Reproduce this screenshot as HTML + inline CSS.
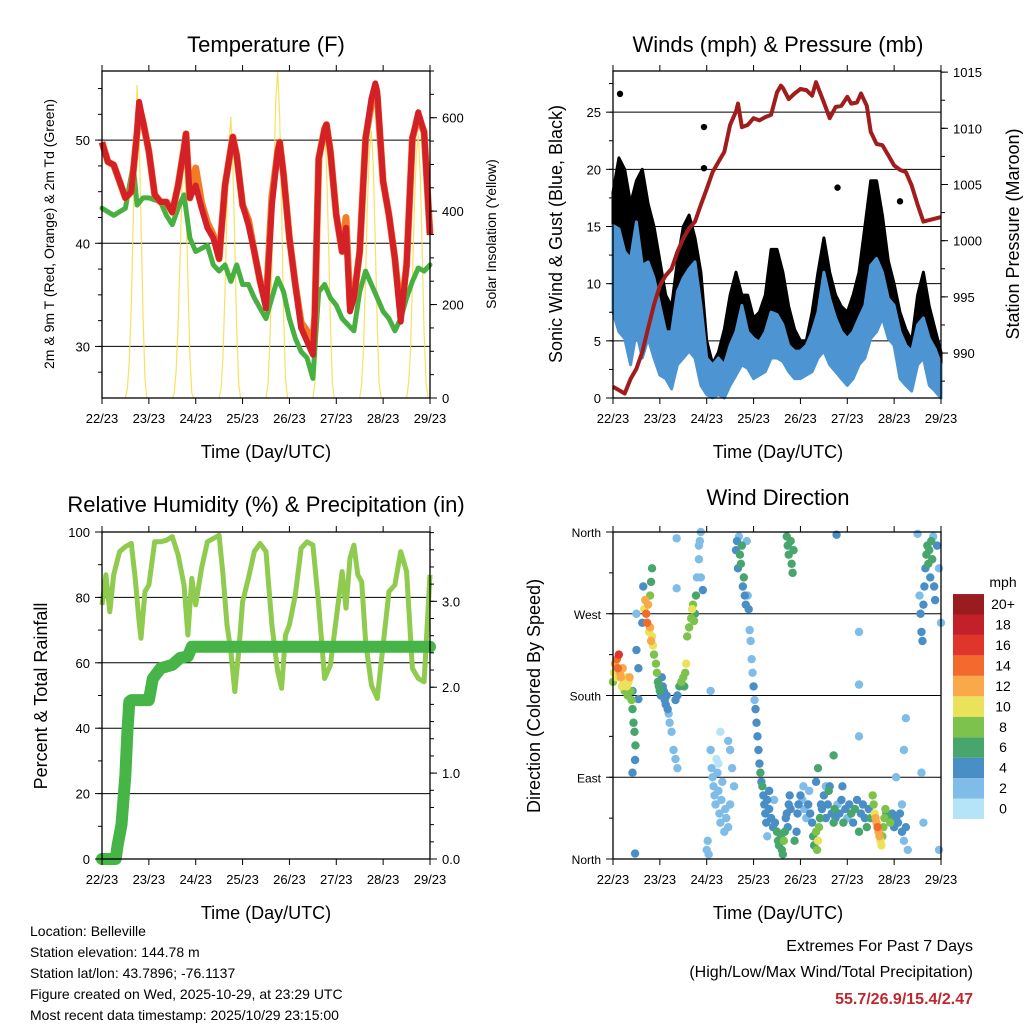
<!DOCTYPE html>
<html><head><meta charset="utf-8"><style>
body{margin:0;background:#fff}
svg{display:block;font-family:"Liberation Sans",Arial,sans-serif}
</style></head><body>
<svg id="c" width="1024" height="1024" viewBox="0 0 1024 1024">
<g id="layer"></g>
<text x="266" y="52" font-size="22" text-anchor="middle">Temperature (F)</text>
<text x="778" y="52" font-size="22" text-anchor="middle">Winds (mph) &amp; Pressure (mb)</text>
<text x="266" y="512" font-size="22" text-anchor="middle">Relative Humidity (%) &amp; Precipitation (in)</text>
<text x="778" y="505" font-size="22" text-anchor="middle">Wind Direction</text>
<text x="266" y="458" font-size="18" text-anchor="middle">Time (Day/UTC)</text>
<text x="778" y="458" font-size="18" text-anchor="middle">Time (Day/UTC)</text>
<text x="266" y="919" font-size="18" text-anchor="middle">Time (Day/UTC)</text>
<text x="778" y="919" font-size="18" text-anchor="middle">Time (Day/UTC)</text>
<text transform="translate(54,234) rotate(-90)" font-size="14" text-anchor="middle">2m &amp; 9m T (Red, Orange) &amp; 2m Td (Green)</text>
<text transform="translate(496,234) rotate(-90)" font-size="14" text-anchor="middle">Solar Insolation (Yellow)</text>
<text transform="translate(562,234) rotate(-90)" font-size="18" text-anchor="middle">Sonic Wind &amp; Gust (Blue, Black)</text>
<text transform="translate(1019,234) rotate(-90)" font-size="18" text-anchor="middle">Station Pressure (Maroon)</text>
<text transform="translate(47,696) rotate(-90)" font-size="18" text-anchor="middle">Percent &amp; Total Rainfall</text>
<text transform="translate(540,696) rotate(-90)" font-size="18" text-anchor="middle">Direction (Colored By Speed)</text>
<text x="1003" y="587" font-size="14" text-anchor="middle">mph</text>
<g font-size="14">
<text x="30" y="936">Location: Belleville</text>
<text x="30" y="957">Station elevation: 144.78 m</text>
<text x="30" y="978">Station lat/lon: 43.7896; -76.1137</text>
<text x="30" y="999">Figure created on Wed, 2025-10-29, at 23:29 UTC</text>
<text x="30" y="1020">Most recent data timestamp: 2025/10/29 23:15:00</text>
</g>
<text x="973" y="951" font-size="16" text-anchor="end">Extremes For Past 7 Days</text>
<text x="973" y="977" font-size="16" text-anchor="end">(High/Low/Max Wind/Total Precipitation)</text>
<text x="973" y="1004" font-size="16" font-weight="bold" fill="#c0272d" text-anchor="end">55.7/26.9/15.4/2.47</text>
</svg>
<script>
const dayLabels=["22/23","23/23","24/23","25/23","26/23","27/23","28/23","29/23"];
const tempHours=[0,3,6,9,12,15,18,19,21,24,27,30,33,36,39,42,43,45,48,51,54,57,60,63,66,67,69,72,75,78,81,84,87,90,91,93,96,99,102,105,108,109,111,114,115,117,120,123,125,127,129,132,135,138,140,141,144,147,150,153,156,159,162,165,168];
const temp2m=[49.8,47.9,47.6,46,44.4,45,50.8,53.7,51.8,48.9,44.7,44,44,43,45.6,49.2,50.6,44.4,45.6,43.4,41.5,40.5,38.5,45.6,49.2,50.3,48.5,43.7,41.8,39.2,36.3,33.7,43.7,48.9,49.8,46.6,40.5,36,31.8,30.5,29.2,33,48.2,51.1,51.5,48.9,42.7,39.2,41.5,33.4,34.7,39.2,50.2,54,55.5,54.7,46,42.7,38.5,32.4,37.9,50.2,52.7,50.8,40.8];
const temp9m=[49.8,47.9,47.6,46,44.4,45,50.8,53.2,51.8,48.9,44.7,44,44,43,45.6,49.2,50.6,44.4,47.3,43.9,42,40.8,38.5,45.6,49.2,50.3,48.5,43.7,42.3,39.2,36.3,34,44.5,48.9,49.8,46.6,40.5,36,32.3,31.5,30.5,33,48.2,51.1,51.5,48.9,42.7,39.2,42.5,34,34.7,39.2,50.2,53.5,55,54.2,46,42.7,38.5,33,37.9,50.2,52.2,50.8,40.8];
const dewHours=[0,6,12,16,18,21,24,30,33,36,39,42,45,48,54,57,60,63,66,69,72,75,78,81,84,87,90,93,96,99,102,105,108,111,114,117,120,123,126,129,132,135,138,141,144,147,150,153,156,159,162,165,168];
const dewPoint=[43.4,42.7,43.4,47.6,43.7,44.4,44.4,44,42.7,41.8,43.4,44.7,40.5,39.2,39.8,37.9,37.3,37.9,36.3,37.9,36,36,34.7,33.7,32.7,34.7,36.6,35.3,32.7,30.8,29.5,28.9,26.9,35.3,36,34.7,34,32.7,32.1,31.5,35.3,37.3,36,34.7,33.4,32.7,31.5,32.7,34.7,36.3,37.6,37.3,37.9];
const solarByDay=[[0,20,80,200,380,550,670,560,380,180,40,0],[0,10,60,160,300,450,572,420,250,90,10,0],[0,20,90,230,400,540,602,500,330,150,30,0],[0,30,120,280,470,640,700,600,400,180,40,0],[0,30,110,260,430,540,572,500,340,160,30,0],[0,30,110,260,420,530,572,490,330,150,30,0],[0,30,100,250,410,520,565,480,320,140,30,0]];
const solarStartHour=12;
const windHours=[0,3,6,9,12,15,18,21,24,27,30,33,36,39,42,45,48,51,54,57,60,63,66,69,72,75,78,81,84,87,90,93,96,99,102,105,108,111,114,117,120,123,126,129,132,135,138,141,144,147,150,153,156,159,162,165,168];
const windHi=[15.1,14.8,12.8,12.2,15.4,11.6,11.9,10.5,8.1,5.8,5.8,9.3,10.5,11.3,11.9,8.1,3.5,2.9,3.5,2.9,4.6,5.8,8.1,5.8,5.2,4.9,5.8,7.5,7.3,6.4,4.6,4.1,4.1,4.6,5.8,7.5,11,8.7,7,5.8,5.2,5.8,7,8.1,11.6,12.2,11,8.7,8.1,5.8,4.6,4.1,6.4,7,5.2,4.3,2.9];
const windLo=[7.5,5.8,5.2,2.9,5.8,3.5,5.2,3.5,2,1.7,0.8,2.9,3.5,4.1,3.5,1.1,0.3,0,0.3,0,1.1,2,2.9,2.6,1.7,2,2.3,3.5,3.5,3.2,2.3,1.7,1.7,2,2.3,3.5,4.1,2.9,2.3,1.7,1.1,1.7,2.9,3.5,5.2,5.8,7,5.2,4.6,1.7,1.1,0.6,2.9,3.5,1.1,0.6,0];
const gustHi=[18,21,20,17,19,20,17,15,12,9,8,12,15,16,14,11,5,3,4,6,9,11,9,9,7,7.5,9,13,13,11,8,6,5,5,7.5,11,14,11,9,8,7.5,9,11,15,19,19,16,12,10,7.5,6,5,9,11,8,6,4];
const gustLo=[9,10,12,9,10,11,9,7,6,4,2,5,7,8,8,3,1,0.5,1,2,4,5,5,4,3,3.5,4,6,7,6,5,3,3,3,4,6,8,6,4,3,3,4,5,8,11,11,10,8,7,4,3,1,5,7,3,1,0.5];
const gustOutlierHours=[3.6,46.6,46.6,115,147];
const gustOutlierVals=[26.6,23.7,20.1,18.4,17.2];
const pressHours=[0,3,6,9,12,15,18,21,24,27,30,33,36,39,42,45,48,51,54,57,60,63,64,66,69,72,75,78,81,84,86,87,90,93,96,99,102,104,108,111,114,117,120,122,125,127,130,132,135,138,141,144,147,150,153,156,159,168];
const pressure=[987,986.7,986.4,987.7,988.6,990.1,992.2,994.3,996,996.9,997.5,999,1000.2,1001.1,1001.7,1003.2,1004.6,1006.1,1007,1007.9,1010.3,1011.5,1012.2,1010.1,1010.3,1010.9,1010.7,1011,1011.2,1013.2,1013.8,1013.6,1012.6,1013.1,1013.5,1013.4,1012.9,1014.1,1012.3,1010.9,1011.9,1012,1012.8,1012.2,1012.3,1013.1,1012,1009.7,1008.6,1008.5,1007.6,1006.7,1006.3,1006.1,1004.9,1003.2,1001.7,1002.1];
const rhHours=[0,2,4,6,9,12,15,17,19,20,22,24,27,30,33,36,39,42,44,46,48,51,54,57,60,62,64,66,68,70,72,75,78,81,84,87,90,92,94,96,99,102,105,108,111,114,117,120,123,125,127,129,131,133,135,138,141,144,147,150,153,156,159,162,165,168];
const rh=[77.7,86.9,75.6,86.9,94,95.5,96.5,85.8,72.6,67.5,81.8,83.8,97,97,97.5,98.6,93,83.8,68.5,85.8,77.7,89,97,98,99,86.9,71.6,63.4,51.2,63.4,78.7,85.8,94,96.5,94,71.6,57.3,52.2,68.5,71.6,80.7,95,97,96,77.7,55.2,59.3,73.6,87.9,76.7,92,96,86.9,84.8,66.5,53.2,49.1,65.4,81.8,83.8,94,87.9,58.3,55.2,54.2,86.9];
const precipHours=[0,7,8,10,12,13,14,15,24,26,30,36,40,44,46,168];
const precip=[0,0,0.16,0.4,0.98,1.48,1.83,1.85,1.85,2.1,2.22,2.26,2.34,2.36,2.47,2.47];
const dirPoints=[[0,195,8],[0.5,205,9],[1,215,12],[1.5,200,10],[2,220,14],[2.5,210,13],[3,225,15],[3.5,205,12],[4,200,11],[4.5,190,10],[5,210,12],[5.5,195,9],[6,185,8],[6.5,200,10],[7,190,9],[7.5,180,8],[8,195,10],[8.5,200,11],[9,185,8],[9.5,175,7],[10,165,6],[10.5,150,6],[11,140,5],[11.5,125,6],[10,185,4],[12,230,4],[13,210,3],[12,270,2],[10,95,4],[13,176,4],[11.3,6,3],[11.3,109,3],
[15,260,3],[15.5,300,4],[16,275,10],[16.5,285,12],[17,270,14],[17.5,260,13],[18,280,11],[18.5,250,10],[19,255,12],[19.5,240,11],[20,245,10],[20.5,235,9],[19,290,7],[19.5,305,6],[20,320,6],[21,225,8],[22,215,7],[22.5,205,7],[23,195,6],[23.5,190,6],[24,185,5],[24.5,180,4],[25,200,4],[25.5,190,4],[26,185,4],[26.5,175,4],[27,170,4],[27.5,180,3],[28,165,3],[28.5,160,2],[29,150,2],[30,140,2],[31,120,2],[32,110,2],[33,100,1],[32,175,4],[33,180,3],[34,190,6],[35,195,7],[36,200,7],[37,205,8],[37.5,215,9],[36.5,190,6],[38,245,8],[39,255,8],[40,265,7],[40.5,275,9],[41,280,8],[41.5,262,7],[42,270,6],[42.5,290,6],[43,310,2],[44,330,1],[44.5,350,2],[45,360,1],[44,345,2],[45,310,2],[46,296,3],[32.6,298,1],[32.6,353,2],
[48,10,1],[48.5,20,1],[49,5,2],[50,120,2],[50.5,100,1],[51,90,1],[51.5,80,2],[52,70,2],[52.5,60,1],[53,110,0],[53.5,95,1],[54,75,2],[54.5,50,2],[55,40,2],[55.5,65,1],[56,85,2],[57,30,2],[57.5,55,1],[58,45,2],[59,35,2],[60,60,1],[60,120,1],[59,130,1],[55,140,0],[50,185,1],[54,105,0],[61,100,2],[62,80,2],
[63,340,4],[63.5,350,3],[64,320,4],[64.5,355,2],[65,335,5],[65.5,325,5],[66,345,6],[66.5,300,4],[67,310,6],[67.5,290,4],[68,280,4],[68.5,350,2],[69,290,2],[69.5,275,3],
[70,252,1],[70.5,240,2],[71,220,1],[71.5,205,2],[72,190,3],[72.5,175,2],[73,165,3],[73.5,150,4],[74,135,3],[74.5,120,3],[75,105,4],[75.5,95,5],[76,85,4],[76.5,80,6],
[77,70,4],[77.5,60,4],[78,50,3],[78.5,40,4],[79,65,4],[80,55,3],[81,45,4],[82,35,4],[82.5,65,2],[83,40,4],[84,30,5],[84.5,20,6],[85,15,6],[86,25,6],[86.5,10,6],[87,5,6],[87.5,20,7],[88,30,5],[88.5,45,4],[89,50,4],[89.5,35,4],[90,60,4],[90.5,70,4],[91,55,3],[79,25,2],[80,75,3],
[89,355,6],[89.5,345,6],[90,335,6],[91,350,6],[91.5,325,6],[92,315,6],[92.5,340,6],
[93,20,5],[94,30,4],[94.5,50,4],[95,60,3],[96,70,4],[97,65,2],[97.5,80,2],[98,55,2],[99,45,2],[100,60,4],[100.5,75,2],[101,50,4],[102,40,3],[102.5,25,6],[103,15,6],[104,30,8],[104.5,10,8],[105,20,10],[105.5,35,8],[106,45,6],[106.5,60,4],[107,55,4],[108,70,3],[109,45,4],[110,60,4],[110.5,75,5],[111,80,4],[112,50,4],[113,40,6],[113.5,55,5],[114,45,4],[115,60,2],[116,50,4],[117,65,4],[117.5,80,4],[118,40,6],[119,55,4],[120,45,2],[121,60,4],[122,50,6],[105,100,6],[104,85,4],[109,80,2],[123,40,4],[124,55,6],[125,65,4],[126,30,6],[127,50,4],[128,60,4],[129,45,3],[130,35,6],[131,55,4],[132,45,6],[113,114,6],[126,250,1],[126,192,1],[126,135,2],[114.5,357,3],
[133,70,7],[133.5,60,8],[134,50,10],[134.5,45,12],[135,40,12],[135.5,35,13],[136,30,11],[136.5,25,12],[137,20,10],[137.5,15,9],[138,25,8],[138.5,35,7],[139,45,8],[139.5,55,7],[140,50,6],[141,45,6],[142,40,7],[143,50,4],[144,35,4],[145,45,4],[146,40,3],[147,50,4],[148,30,3],[149,20,2],[150,35,4],[151,10,2],[145,90,1],[148,60,1],[149,120,1],[150,155,2],
[157,290,2],[157.5,270,3],[158,250,4],[158.5,240,3],[159,280,4],[159.5,300,4],[160,320,4],[160.5,335,5],[161,345,6],[161.5,325,6],[162,340,6],[162.5,310,4],[163,350,5],[163.5,330,6],[164,355,2],[164.5,300,3],[165,285,4],[166,345,4],[167,320,2],[168,260,2],[156,358,1],[158,95,2],[159,40,1],[167,10,1]];
const speedColors=["#b5e3f8","#7fbde8","#4a8ec6","#48a66d","#7dc24b","#e9e25a","#f9a94a","#f26a2c","#e0352b","#c4202a","#9b1c1f"];
const speedLabels=["0","2","4","6","8","10","12","14","16","18","20+"];

const NS="http://www.w3.org/2000/svg";
const L=document.getElementById('layer');
function mk(tag,a,parent){const e=document.createElementNS(NS,tag);for(const k in a)e.setAttribute(k,a[k]);(parent||L).appendChild(e);return e;}
function lin(d0,d1,r0,r1){return v=>r0+(v-d0)/(d1-d0)*(r1-r0);}
const P1={x0:102,x1:430,y0:71,y1:398},P2={x0:613,x1:941,y0:71,y1:398},P3={x0:102,x1:430,y0:532,y1:859},P4={x0:613,x1:941,y0:532,y1:859};
function xs(P){return lin(0,168,P.x0,P.x1);}
function pts(hs,vs,X,Y){return hs.map((h,i)=>X(h).toFixed(1)+','+Y(vs[i]).toFixed(1)).join(' ');}
function frame(P,name,xLabelY){
  const g=mk('g',{});
  
  
  const X=xs(P);
  dayLabels.forEach((lab,i)=>{const x=X(i*24);
    mk('line',{x1:x,x2:x,y1:P.y1,y2:P.y1+6,stroke:'#000','stroke-width':1},g);
    mk('line',{x1:x,x2:x,y1:P.y0,y2:P.y0-6,stroke:'#000','stroke-width':1},g);
    const t=mk('text',{x:x,y:xLabelY,'font-size':13,'text-anchor':'middle'},g);t.textContent=lab;
    
    
  });
  return g;
}
function box(P){mk('rect',{x:P.x0,y:P.y0,width:P.x1-P.x0,height:P.y1-P.y0,fill:'none',stroke:'#000','stroke-width':1.3});}
function grid(P,Y,vals){vals.forEach(v=>mk('line',{x1:P.x0,x2:P.x1,y1:Y(v),y2:Y(v),stroke:'#000','stroke-width':1}));}
function yTicks(P,Y,vals,labels,side,size,minor){
  const xe=side==='left'?P.x0:P.x1, d=side==='left'?-1:1;
  if(minor)minor.forEach(v=>mk('line',{x1:xe,x2:xe+d*4,y1:Y(v),y2:Y(v),stroke:'#000'}));
  vals.forEach((v,i)=>{mk('line',{x1:xe,x2:xe+d*7,y1:Y(v),y2:Y(v),stroke:'#000'});
    const t=mk('text',{x:xe+d*12,y:Y(v)+5,'font-size':size||13,'text-anchor':side==='left'?'end':'start'});t.textContent=labels[i];
    
    });
}
function range(a,b,s){const r=[];for(let v=a;v<=b+1e-9;v+=s)r.push(v);return r;}

// Panel 1
(function(){const P=P1,X=xs(P),Y=lin(25,56.7,P.y1,P.y0),S=lin(0,700,P.y1,P.y0);
  grid(P,Y,[30,40,50]);
  solarByDay.forEach((arr,d)=>{const hs=arr.map((_,i)=>d*24+solarStartHour+i);
    const e=mk('polyline',{points:pts(hs,arr,X,S),fill:'none',stroke:'#f7dc45','stroke-width':1.2,opacity:0.85});
    
    });
  let e=mk('polyline',{points:pts(dewHours,dewPoint,X,Y),fill:'none',stroke:'#48b040','stroke-width':5,'stroke-linejoin':'round','stroke-dasharray':'4 1','stroke-linecap':'round'});
  
  
  e=mk('polyline',{points:pts(tempHours,temp9m,X,Y),fill:'none',stroke:'#f47b25','stroke-width':7,'stroke-linejoin':'round'});
  
  
  e=mk('polyline',{points:pts(tempHours,temp2m,X,Y),fill:'none',stroke:'#d42128','stroke-width':6,'stroke-linejoin':'round'});
  
  
  box(P);frame(P,'temperature',423);
  yTicks(P,Y,[30,40,50],['30','40','50'],'left',13,range(27.5,55,2.5));
  yTicks(P,S,[0,200,400,600],['0','200','400','600'],'right',13,range(0,700,50));
})();
// Panel 2
(function(){const P=P2,X=xs(P),Y=lin(0,28.6,P.y1,P.y0),PR=lin(986,1015.1,P.y1,P.y0);
  grid(P,Y,[5,10,15,20,25]);
  const band=(hi,lo)=>pts(windHours,hi,X,Y)+' '+pts(windHours.slice().reverse(),lo.slice().reverse(),X,Y);
  let e=mk('polygon',{points:band(gustHi,gustLo),fill:'#000',stroke:'#000','stroke-width':3,'stroke-linejoin':'round'});
  
  
  gustOutlierHours.forEach((h,i)=>{const c=mk('circle',{cx:X(h),cy:Y(gustOutlierVals[i]),r:3.2,fill:'#000'});
    
    });
  e=mk('polygon',{points:band(windHi,windLo),fill:'#4d94d2',stroke:'#4d94d2','stroke-width':3,'stroke-linejoin':'round'});
  
  
  e=mk('polyline',{points:pts(pressHours,pressure,X,PR),fill:'none',stroke:'#a11d1d','stroke-width':4,'stroke-linejoin':'round'});
  
  
  box(P);frame(P,'winds',423);
  yTicks(P,Y,[0,5,10,15,20,25],['0','5','10','15','20','25'],'left',13,range(0,27.5,2.5));
  yTicks(P,PR,[990,995,1000,1005,1010,1015],['990','995','1000','1005','1010','1015'],'right',13,range(987.5,1015,2.5));
})();
// Panel 3
(function(){const P=P3,X=xs(P),Y=lin(0,100,P.y1,P.y0),R=lin(0,3.807,P.y1,P.y0);
  grid(P,Y,[20,40,60,80]);
  let e=mk('polyline',{points:pts(rhHours,rh,X,Y),fill:'none',stroke:'#8fcb4e','stroke-width':5,'stroke-linejoin':'round'});
  
  
  e=mk('polyline',{points:pts(precipHours,precip,X,R),fill:'none',stroke:'#46b446','stroke-width':12,'stroke-linejoin':'round','stroke-linecap':'round'});
  
  
  box(P);frame(P,'humidity',884);
  yTicks(P,Y,[0,20,40,60,80,100],['0','20','40','60','80','100'],'left',13,range(0,100,10));
  yTicks(P,R,[0,1,2,3],['0.0','1.0','2.0','3.0'],'right',13,range(0,3.8,0.2));
})();
// Panel 4
(function(){const P=P4,X=xs(P),Y=lin(0,360,P.y1,P.y0);
  grid(P,Y,[90,180,270]);
  const sorted=dirPoints.slice().sort((a,b)=>a[2]-b[2]);
  sorted.forEach(p=>{const idx=Math.min(10,Math.max(0,Math.round(p[2]/2)));
    const c=mk('circle',{cx:X(p[0]),cy:Y(p[1]),r:4.2,fill:speedColors[idx]});
    
    });
  box(P);frame(P,'direction',884);
  yTicks(P,Y,[0,90,180,270,360],['North','East','South','West','North'],'left',12,range(0,360,45));
  speedColors.forEach((col,i)=>{const y=819-(i+1)*20.45;
    const r=mk('rect',{x:953,y:y,width:31,height:20.45,fill:col});
    
    
    const t=mk('text',{x:1003,y:y+15,'font-size':14,'text-anchor':'middle'});t.textContent=speedLabels[i];
    
    });
})();
</script>
</body></html>
